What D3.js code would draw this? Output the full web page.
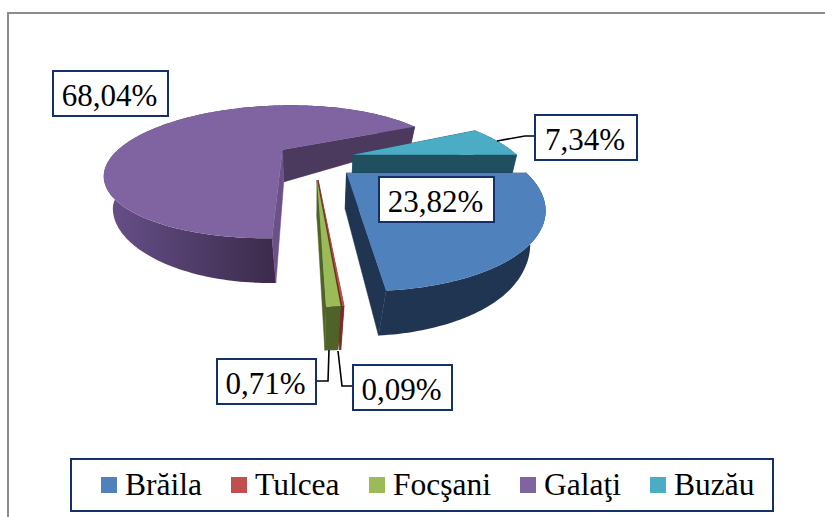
<!DOCTYPE html>
<html><head><meta charset="utf-8">
<script src="https://cdn.jsdelivr.net/npm/d3@7"></script>
<style>html,body{margin:0;padding:0;background:#fff}svg{display:block}text{font-family:"Liberation Serif",serif;fill:#000}</style>
</head><body><div id="c"></div>
<script>
const categories=["Brăila","Tulcea","Focşani","Galaţi","Buzău"];
const values=[23.82,0.09,0.71,68.04,7.34];
const labels=["23,82%","0,09%","0,71%","68,04%","7,34%"];
const topColors=["#4f81bd","#c0504d","#9bbb59","#8064a2","#4bacc6"];
const wallColors=["#1f3552","#7a2c2a","#4f6228","url(#pw)","#205060"];
const startCutColors=["#1f3552","#7a2c2a","#4f6228","#6a5289","#205060"];
const endCutColors=["#1f3552","#7a2c2a","#4f6228","#4b3a5e","#205060"];
const radiusX=[0.92,1,1,0.95,0.92];
const radiusY=[0.985,0.97,0.97,1,1];
const drawOrder=[3,4,1,2,0];

const W=825,H=517;
const svg=d3.select("#c").append("svg").attr("width",W).attr("height",H);
const defs=svg.append("defs");
const g=defs.append("linearGradient").attr("id","pw").attr("gradientUnits","userSpaceOnUse")
 .attr("x1",105).attr("x2",273).attr("y1",0).attr("y2",0);
g.append("stop").attr("offset",0).attr("stop-color","#67508a");
g.append("stop").attr("offset",1).attr("stop-color","#3c2b4c");

svg.append("path").attr("d",`M${W},13H8V${H}`).attr("fill","none").attr("stroke","#8c8c8c").attr("stroke-width",2);

// perspective model
const cam={cx:315,cy:159,R:182,Ry:65.5,k:0.35,ex:0.22,ey:0.29};
const bottomY=d3.scaleLinear().domain([107,126,151,172,240,289,305]).range([125,144,184,208,285,334,349]);
const bottomX=d3.scaleLinear().domain([170,240,300]).range([0.96,0.91,0.89]).clamp(true);
const pie=d3.pie().sort(null).value(d=>d).startAngle(Math.PI/2).endAngle(Math.PI/2+2*Math.PI);
const arcs=pie(values);

function project(u,v){
  const w=1-cam.k*v;
  return [cam.cx+cam.R*u/w, cam.cy+cam.Ry*v/w];
}
function low(p){return [cam.cx+bottomX(p[1])*(p[0]-cam.cx), bottomY(p[1])];}
const line=d3.line().curve(d3.curveLinear);

const pies=svg.append("g");
drawOrder.forEach(i=>{
  const a=arcs[i], mid=(a.startAngle+a.endAngle)/2;
  const ou=Math.sin(mid)*cam.ex, ov=-Math.cos(mid)*cam.ey;
  const rim=t=>project(ou+radiusX[i]*Math.sin(t), ov-radiusY[i]*Math.cos(t));
  const n=Math.max(2,Math.ceil((a.endAngle-a.startAngle)/0.02));
  const ts=d3.range(n+1).map(j=>a.startAngle+(a.endAngle-a.startAngle)*j/n);
  const pts=ts.map(rim), apex=project(ou,ov);
  const G=pies.append("g");
  G.append("path").attr("d",line(pts.concat(pts.map(low).reverse()))+"Z").attr("fill",wallColors[i]);
  G.append("path").attr("d",line([apex,pts[n],low(pts[n]),low(apex)])+"Z").attr("fill",endCutColors[i]).attr("stroke",endCutColors[i]).attr("stroke-width",.5);
  G.append("path").attr("d",line([apex,pts[0],low(pts[0]),low(apex)])+"Z").attr("fill",startCutColors[i]).attr("stroke",startCutColors[i]).attr("stroke-width",.5);
  G.append("path").attr("d",line([apex].concat(pts))+"Z").attr("fill",topColors[i]);
});

// leaders
const leaders=[[[497,141],[525,136],[535,136]],[[316,381],[328,381],[329,350]],[[353,386],[342,386],[338,351]]];
svg.append("g").selectAll("path").data(leaders).join("path").attr("d",d=>line(d)).attr("fill","none").attr("stroke","#000").attr("stroke-width",1.6);

// label boxes
const boxes=[[379,177,115,45,0],[353,365,99,45,1],[217,359,99,45,2],[53,71,115,45,3],[535,115,102,45,4]];
const lb=svg.append("g").selectAll("g").data(boxes).join("g");
lb.append("rect").attr("x",d=>d[0]).attr("y",d=>d[1]).attr("width",d=>d[2]).attr("height",d=>d[3])
  .attr("fill","#fff").attr("stroke","#12306a").attr("stroke-width",2);
lb.append("text").attr("x",d=>d[0]+d[2]/2-1).attr("y",d=>d[1]+35).attr("text-anchor","middle").attr("font-size",31).text(d=>labels[d[4]]);

// legend
svg.append("rect").attr("x",71).attr("y",459).attr("width",702).attr("height",52).attr("fill","#fff").attr("stroke","#12306a").attr("stroke-width",2);
const legendX=[101,231,369,520,650];
const lg=svg.append("g").selectAll("g").data(categories).join("g").attr("transform",(d,i)=>`translate(${legendX[i]},0)`);
lg.append("rect").attr("y",477).attr("width",16).attr("height",16).attr("fill",(d,i)=>topColors[i]);
lg.append("text").attr("x",24).attr("y",495).attr("font-size",31.5).text(d=>d);
</script></body></html>
